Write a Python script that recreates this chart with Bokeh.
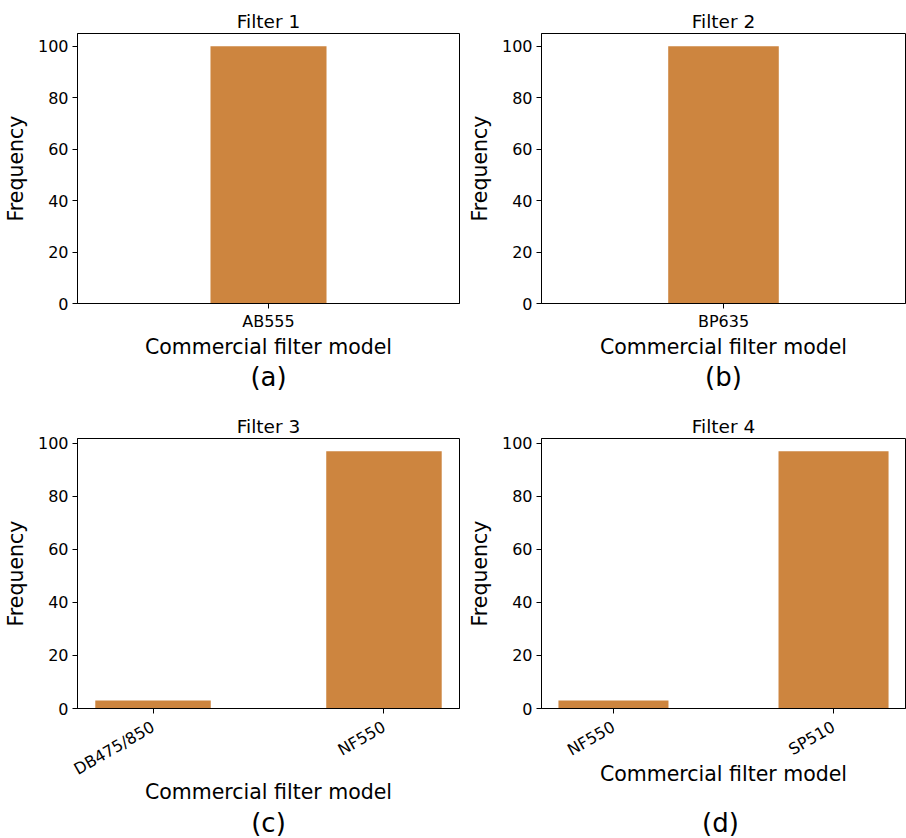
import math

from bokeh.embed import file_html
from bokeh.layouts import column, row
from bokeh.models import ColumnDataSource, FactorRange, FixedTicker, Range1d, Title
from bokeh.plotting import figure
from bokeh.resources import INLINE

# Filter-model counts for the four filter positions
filter1_models = ["AB555"]
filter1_counts = [100]

filter2_models = ["BP635"]
filter2_counts = [100]

filter3_models = ["DB475/850", "NF550"]
filter3_counts = [3, 97]

filter4_models = ["NF550", "SP510"]
filter4_counts = [3, 97]

panel_titles = ["Filter 1", "Filter 2", "Filter 3", "Filter 4"]
panel_tags = ["(a)", "(b)", "(c)", "(d)"]
y_ticks = [0, 20, 40, 60, 80, 100]

FONT = "DejaVu Sans"
BAR_COLOR = "#CD853F"


def make_panel(models, counts, title, tag, width, height, borders, rotate,
               tick_standoff, label_standoff):
    left, right, top, bottom = borders
    ymax = max(counts) * 1.05
    pad = 0.323 if len(models) == 1 else -0.173
    x_range = FactorRange(*models, range_padding=pad, range_padding_units="absolute")
    p = figure(
        x_range=x_range,
        y_range=Range1d(0, ymax),
        width=width,
        height=height,
        min_border_left=left,
        min_border_right=right,
        min_border_top=top,
        min_border_bottom=bottom,
        output_backend="svg",
        toolbar_location=None,
        title=title,
    )
    src = ColumnDataSource(dict(model=models, count=counts))
    p.vbar(x="model", top="count", width=0.5, source=src,
           fill_color=BAR_COLOR, line_color=None)

    p.title.text_font = FONT
    p.title.text_font_size = "18.5px"
    p.title.text_font_style = "normal"
    p.title.text_color = "black"
    p.title.align = "center"
    p.title.standoff = 4

    p.xgrid.visible = False
    p.ygrid.visible = False
    p.outline_line_color = "black"
    p.outline_line_width = 1
    p.background_fill_color = "white"
    p.border_fill_color = "white"

    for ax in (p.xaxis[0], p.yaxis[0]):
        ax.axis_line_color = "black"
        ax.major_tick_line_color = "black"
        ax.major_tick_out = 5
        ax.major_tick_in = 0
        ax.minor_tick_line_color = None
        ax.major_label_text_font = FONT
        ax.major_label_text_font_size = "16px"
        ax.major_label_text_color = "black"
        ax.axis_label_text_font = FONT
        ax.axis_label_text_font_size = "20.5px"
        ax.axis_label_text_font_style = "normal"
        ax.axis_label_text_color = "black"

    p.yaxis.ticker = FixedTicker(ticks=y_ticks)
    p.yaxis.axis_label = "Frequency"
    p.yaxis.major_label_standoff = 4
    p.yaxis.axis_label_standoff = 7

    p.xaxis.axis_label = "Commercial filter model"
    p.xaxis.major_label_standoff = tick_standoff
    p.xaxis.axis_label_standoff = label_standoff

    if rotate:
        p.xaxis.major_label_orientation = math.pi / 6
    else:
        p.add_layout(
            Title(text=tag, align="center", text_font=FONT, text_font_size="26px",
                  text_font_style="normal", text_color="black", standoff=-3),
            "below",
        )
    return p


def make_tag_strip(tag, width, height, left, right, baseline_from_bottom):
    # narrow strip that carries the panel tag under a lower panel
    s = figure(width=width, height=height, x_range=Range1d(0, width),
               y_range=Range1d(0, height), min_border=0,
               output_backend="svg", toolbar_location=None)
    s.axis.visible = False
    s.grid.visible = False
    s.outline_line_color = None
    s.background_fill_color = "white"
    s.border_fill_color = "white"
    cx = left + (width - left - right) / 2
    s.text(x=[cx], y=[baseline_from_bottom], text=[tag], text_align="center",
           text_baseline="middle", text_font={"value": FONT},
           text_font_size="26px", text_color="black")
    return s


pa = make_panel(filter1_models, filter1_counts, panel_titles[0], panel_tags[0],
                464, 397, (77, 5, 33, 94), False, 3, 1)
pb = make_panel(filter2_models, filter2_counts, panel_titles[1], panel_tags[1],
                442, 397, (71, 1, 33, 94), False, 3, 1)
pc = make_panel(filter3_models, filter3_counts, panel_titles[2], panel_tags[2],
                464, 409, (77, 5, 41, 98), True, 12, -10)
pd = make_panel(filter4_models, filter4_counts, panel_titles[3], panel_tags[3],
                442, 409, (71, 1, 41, 98), True, 12, -9)
tc = make_tag_strip(panel_tags[2], 464, 32, 77, 5, 16)
td = make_tag_strip(panel_tags[3], 442, 32, 71, 1, 16)

layout = column(row(pa, pb, spacing=0), row(pc, pd, spacing=0),
                row(tc, td, spacing=0), spacing=0)

open("out.html", "w").write(file_html(layout, INLINE))
